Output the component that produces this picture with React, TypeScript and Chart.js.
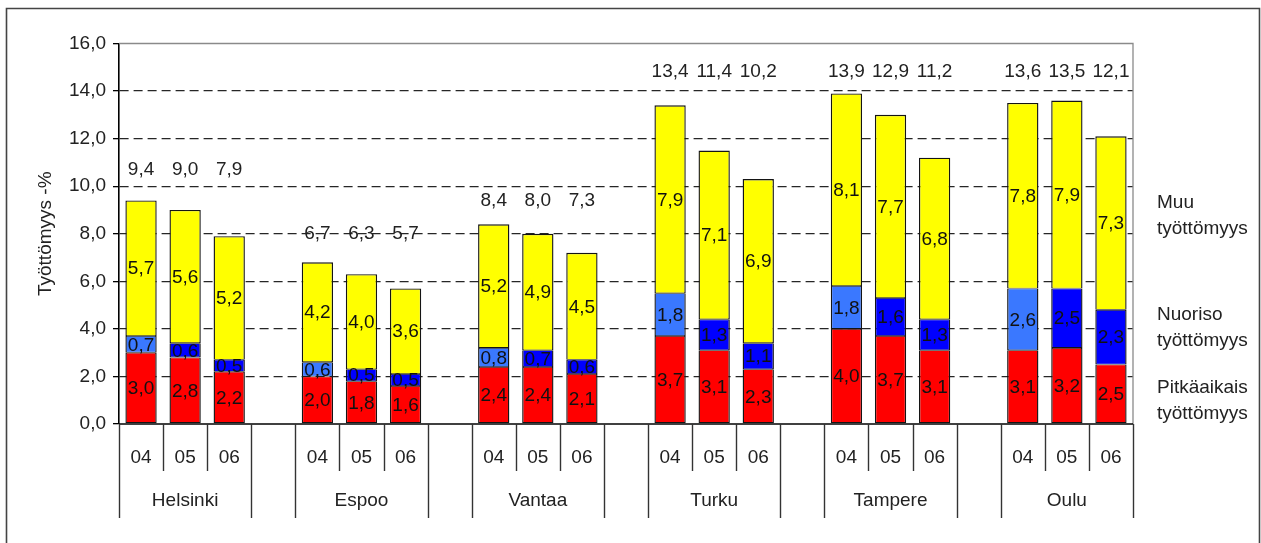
import React, { useEffect, useRef } from 'react';
import { Chart, registerables } from 'chart.js';

Chart.register(...registerables);

// ---------- data ----------
const cities = ['Helsinki', 'Espoo', 'Vantaa', 'Turku', 'Tampere', 'Oulu'];
const years = ['04', '05', '06'];
const seriesNames = ['Pitkäaikais työttömyys', 'Nuoriso työttömyys', 'Muu työttömyys'];

// per city: 04, 05, 06
const pitkaaikais = [3.0, 2.8, 2.2, 2.0, 1.8, 1.6, 2.4, 2.4, 2.1, 3.7, 3.1, 2.3, 4.0, 3.7, 3.1, 3.1, 3.2, 2.5];
const nuoriso = [0.7, 0.6, 0.5, 0.6, 0.5, 0.5, 0.8, 0.7, 0.6, 1.8, 1.3, 1.1, 1.8, 1.6, 1.3, 2.6, 2.5, 2.3];
const muu = [5.7, 5.6, 5.2, 4.2, 4.0, 3.6, 5.2, 4.9, 4.5, 7.9, 7.1, 6.9, 8.1, 7.7, 6.8, 7.8, 7.9, 7.3];
const totals = [9.4, 9.0, 7.9, 6.7, 6.3, 5.7, 8.4, 8.0, 7.3, 13.4, 11.4, 10.2, 13.9, 12.9, 11.2, 13.6, 13.5, 12.1];
// height (in axis units) at which each city's total labels sit
const totalLabelLevel = [10.7, 8.0, 9.37, 14.8, 14.8, 14.8];

const yMin = 0;
const yMax = 16;
const yStep = 2;

// ---------- derived slot layout (gap slot between cities) ----------
const slotCity: (number | null)[] = [];
const slotYear: (number | null)[] = [];
cities.forEach((_, ci) => {
  years.forEach((__, yi) => {
    slotCity.push(ci);
    slotYear.push(yi);
  });
  if (ci < cities.length - 1) {
    slotCity.push(null);
    slotYear.push(null);
  }
});
const slotLabels = slotCity.map((ci, i) => (ci === null ? '' : `${cities[ci]} ${years[slotYear[i] as number]}`));
const expand = (arr: number[]) => {
  let k = 0;
  return slotCity.map((ci) => (ci === null ? null : arr[k++]));
};
const slotTotals = expand(totals);

const FONT = '"Liberation Sans", Arial, sans-serif';
const FS = 19;
const fmt = (v: number) => v.toFixed(1).replace('.', ',');

const RED = '#ff0000';
const BLUE = '#0000ff';
const LIGHT_BLUE = '#3a78ff';
const YELLOW = '#ffff00';
const EDGE = '#141414';

const framePlugin = {
  id: 'frame',
  beforeDraw(chart: any) {
    const { ctx, width, height } = chart;
    ctx.save();
    ctx.fillStyle = '#ffffff';
    ctx.fillRect(0, 0, width, height);
    ctx.strokeStyle = '#444444';
    ctx.lineWidth = 1.6;
    ctx.beginPath();
    ctx.moveTo(6.5, height + 5);
    ctx.lineTo(6.5, 8.5);
    ctx.lineTo(width - 1.5, 8.5);
    ctx.lineTo(width - 1.5, height + 5);
    ctx.stroke();
    ctx.restore();
  },
};

const labelsPlugin = {
  id: 'segLabels',
  afterDatasetsDraw(chart: any) {
    const { ctx } = chart;
    const ys = chart.scales.y;
    ctx.save();
    ctx.font = `${FS}px ${FONT}`;
    ctx.textAlign = 'center';
    ctx.textBaseline = 'middle';
    ctx.fillStyle = '#111111';
    chart.data.datasets.forEach((ds: any, di: number) => {
      const meta = chart.getDatasetMeta(di);
      meta.data.forEach((el: any, i: number) => {
        const v = ds.data[i];
        if (v == null) return;
        const { x, y, base } = el.getProps(['x', 'y', 'base'], true);
        ctx.fillText(fmt(v), x, (y + base) / 2 + 1);
      });
    });
    // totals
    ctx.fillStyle = '#222222';
    const meta0 = chart.getDatasetMeta(0);
    meta0.data.forEach((el: any, i: number) => {
      const ci = slotCity[i];
      const t = slotTotals[i];
      if (ci === null || t == null) return;
      const { x } = el.getProps(['x'], true);
      ctx.fillText(fmt(t), x, ys.getPixelForValue(totalLabelLevel[ci]));
    });
    ctx.restore();
  },
};

const axisPlugin = {
  id: 'axisDecor',
  afterDraw(chart: any) {
    const { ctx, chartArea } = chart;
    const { left, right, top, bottom } = chartArea;
    const xs = chart.scales.x;
    ctx.save();
    // plot border (top, right)
    ctx.strokeStyle = '#8a8a8a';
    ctx.lineWidth = 1.3;
    ctx.beginPath();
    ctx.moveTo(left, top);
    ctx.lineTo(right, top);
    ctx.lineTo(right, bottom);
    ctx.stroke();
    // bottom axis
    ctx.strokeStyle = '#000000';
    ctx.lineWidth = 1.5;
    ctx.beginPath();
    ctx.moveTo(left, bottom);
    ctx.lineTo(right, bottom);
    ctx.stroke();
    // category boundaries
    const n = slotCity.length;
    const w = xs.getPixelForValue(1) - xs.getPixelForValue(0);
    const x0 = xs.getPixelForValue(0) - w / 2;
    ctx.strokeStyle = '#333333';
    ctx.lineWidth = 1.4;
    for (let b = 0; b <= n; b++) {
      const px = Math.round(x0 + b * w) + 0.5;
      const outer = b === 0 || b === n || slotCity[b] === null || slotCity[b - 1] === null;
      const len = outer ? 94 : 47;
      ctx.beginPath();
      ctx.moveTo(px, bottom);
      ctx.lineTo(px, bottom + len);
      ctx.stroke();
    }
    // year and city labels
    ctx.font = `${FS}px ${FONT}`;
    ctx.fillStyle = '#222222';
    ctx.textAlign = 'center';
    ctx.textBaseline = 'middle';
    slotCity.forEach((ci, i) => {
      if (ci === null) return;
      const px = xs.getPixelForValue(i);
      ctx.fillText(years[slotYear[i] as number], px, bottom + 34);
      if (slotYear[i] === 1) ctx.fillText(cities[ci], px, bottom + 77);
    });
    // legend (series names, right side)
    ctx.textAlign = 'left';
    const lx = right + 24;
    const legendRows: [string, number][] = [
      [seriesNames[2], top + 159],
      [seriesNames[1], top + 271],
      [seriesNames[0], top + 344],
    ];
    legendRows.forEach(([name, yy]) => {
      const parts = name.split(' ');
      ctx.fillText(parts[0], lx, yy);
      ctx.fillText(parts[1], lx, yy + 26);
    });
    ctx.restore();
  },
};

export default function App() {
  const ref = useRef<HTMLCanvasElement | null>(null);

  useEffect(() => {
    if (!ref.current) return;
    const common = {
      borderColor: EDGE,
      borderSkipped: false as const,
      barPercentage: 0.71,
      categoryPercentage: 1,
    };
    const chart = new Chart(ref.current, {
      type: 'bar',
      data: {
        labels: slotLabels,
        datasets: [
          {
            ...common,
            label: seriesNames[0],
            data: expand(pitkaaikais),
            backgroundColor: RED,
            borderWidth: { top: 0.8, bottom: 1.4, left: 1.4, right: 1.4 },
          },
          {
            ...common,
            label: seriesNames[1],
            data: expand(nuoriso),
            backgroundColor: slotYear.map((y) => (y === 0 ? LIGHT_BLUE : BLUE)),
            borderWidth: { top: 0.8, bottom: 0.8, left: 1.4, right: 1.4 },
          },
          {
            ...common,
            label: seriesNames[2],
            data: expand(muu),
            backgroundColor: YELLOW,
            borderWidth: { top: 1.4, bottom: 0.8, left: 1.4, right: 1.4 },
          },
        ] as any,
      },
      options: {
        animation: false,
        responsive: false,
        devicePixelRatio: 1,
        layout: { padding: { left: 0, top: 43.5, right: 1261 - 1133, bottom: 543 - 424 } },
        plugins: {
          legend: { display: false },
          tooltip: { enabled: false },
        },
        scales: {
          x: {
            stacked: true,
            display: false,
          },
          y: {
            stacked: true,
            min: yMin,
            max: yMax,
            afterFit: (s: any) => {
              s.width = 119;
            },
            ticks: {
              stepSize: yStep,
              padding: 7,
              color: '#222222',
              font: { family: FONT, size: FS },
              callback: (v: any) => fmt(Number(v)),
            },
            grid: {
              color: (c: any) =>
                c.tick && (c.tick.value === yMin || c.tick.value === yMax) ? 'rgba(0,0,0,0)' : '#262626',
              lineWidth: 1.3,
              drawTicks: true,
              tickLength: 6,
              tickColor: '#000000',
              tickWidth: 1.3,
            },
            border: { display: true, color: '#000000', width: 1.6, dash: [9, 5] },
            title: {
              display: true,
              text: 'Työttömyys -%',
              color: '#222222',
              font: { family: FONT, size: FS },
              padding: { top: 34, bottom: 0 },
            },
          },
        },
      },
      plugins: [framePlugin, labelsPlugin, axisPlugin],
    });
    return () => chart.destroy();
  }, []);

  return (
    <div style={{ position: 'absolute', left: 0, top: 0, width: 1261, height: 543, background: '#fff' }}>
      <canvas ref={ref} width={1261} height={543} style={{ width: 1261, height: 543, display: 'block' }} />
    </div>
  );
}
